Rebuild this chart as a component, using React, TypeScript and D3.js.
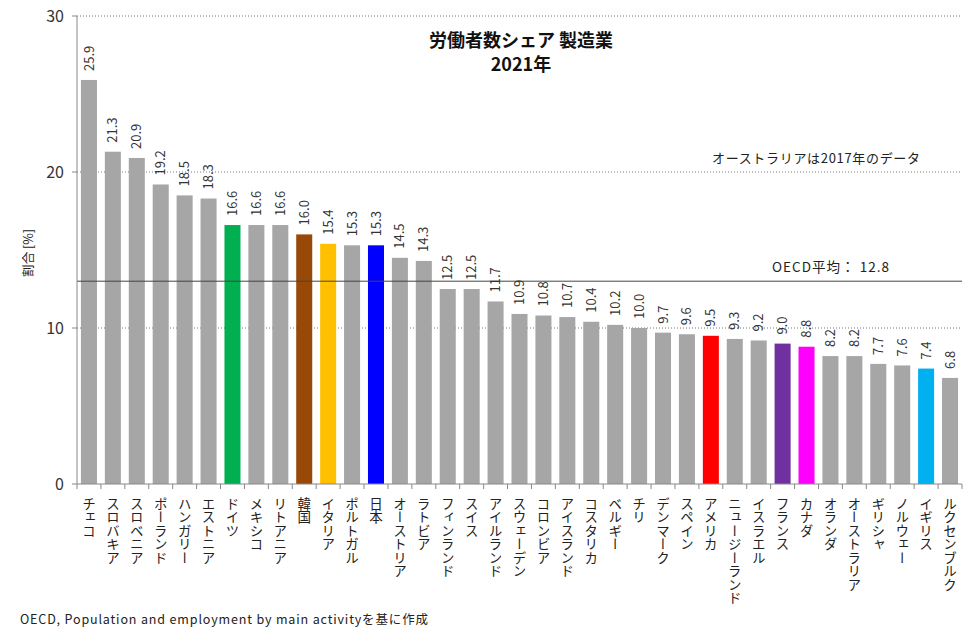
import React from "react";
import * as d3 from "d3";

const categories = [
  "チェコ", "スロバキア", "スロベニア", "ポーランド", "ハンガリー", "エストニア", "ドイツ", "メキシコ", "リトアニア", "韓国",
  "イタリア", "ポルトガル", "日本", "オーストリア", "ラトビア", "フィンランド", "スイス", "アイルランド", "スウェーデン", "コロンビア",
  "アイスランド", "コスタリカ", "ベルギー", "チリ", "デンマーク", "スペイン", "アメリカ", "ニュージーランド", "イスラエル", "フランス",
  "カナダ", "オランダ", "オーストラリア", "ギリシャ", "ノルウェー", "イギリス", "ルクセンブルク",
];
const values = [
  25.9, 21.3, 20.9, 19.2, 18.5, 18.3, 16.6, 16.6, 16.6, 16.0,
  15.4, 15.3, 15.3, 14.5, 14.3, 12.5, 12.5, 11.7, 10.9, 10.8,
  10.7, 10.4, 10.2, 10.0, 9.7, 9.6, 9.5, 9.3, 9.2, 9.0,
  8.8, 8.2, 8.2, 7.7, 7.6, 7.4, 6.8,
];
const highlightNames = ["ドイツ", "韓国", "イタリア", "日本", "アメリカ", "フランス", "カナダ", "イギリス"];
const highlightColors = ["#00b050", "#984807", "#ffc000", "#0000ff", "#ff0000", "#7030a0", "#ff00ff", "#00b0f0"];
const yTicks = [0, 10, 20, 30];
const oecdAverageText = "12.8";
const oecdAverageLineLevel = 13.0; // position of the line as drawn in the reference
const titleLines = ["労働者数シェア 製造業", "2021年"];
const noteText = "オーストラリアは2017年のデータ";
const sourceText = "OECD, Population and employment by main activityを基に作成";

const FONT = "'Noto Sans CJK JP', 'Noto Sans', sans-serif";

export default function App() {
  const W = 977, H = 639;
  const left = 77, right = 962, top = 16, bottom = 484;
  const x = d3.scaleBand<string>().domain(categories).range([left, right]).paddingInner(0.33).paddingOuter(0.165);
  const y = d3.scaleLinear().domain([0, 30]).range([bottom, top]);
  const colorOf = (c: string) => {
    const i = highlightNames.indexOf(c);
    return i >= 0 ? highlightColors[i] : "#a6a6a6";
  };
  const boundaries = d3.range(categories.length + 1).map((i) => left + i * ((right - left) / categories.length));

  return (
    <svg width={W} height={H} style={{ position: "absolute", left: 0, top: 0, background: "#fff" }} fontFamily={FONT}>
      <rect x={0} y={0} width={W} height={H} fill="#fff" />
      {/* gridlines */}
      {yTicks.filter((t) => t > 0).map((t) => (
        <line key={t} x1={left} x2={right} y1={y(t)} y2={y(t)} stroke="#777" strokeWidth={1} strokeDasharray="1,2" />
      ))}
      {/* bars */}
      {categories.map((c, i) => (
        <rect key={c} x={x(c)} y={y(values[i])} width={x.bandwidth()} height={y(0) - y(values[i])} fill={colorOf(c)} />
      ))}
      {/* average line */}
      <line x1={left} x2={right} y1={y(oecdAverageLineLevel)} y2={y(oecdAverageLineLevel)} stroke="#444" strokeWidth={1} />
      {/* axes */}
      <line x1={left} x2={left} y1={top} y2={bottom} stroke="#888" />
      <line x1={left} x2={right} y1={bottom} y2={bottom} stroke="#888" />
      {yTicks.map((t) => (
        <g key={t}>
          <line x1={left - 5} x2={left} y1={y(t)} y2={y(t)} stroke="#888" />
          <text x={left - 13} y={y(t)} dy="0.35em" textAnchor="end" fontSize={16} fill="#333">{t}</text>
        </g>
      ))}
      {boundaries.map((b, i) => (
        <line key={i} x1={b} x2={b} y1={bottom} y2={bottom + 5} stroke="#888" />
      ))}
      {/* value labels */}
      {categories.map((c, i) => {
        const cx = (x(c) as number) + x.bandwidth() / 2;
        return (
          <text key={c} transform={`translate(${cx},${y(values[i]) - 9}) rotate(-90)`} dy="0.35em" fontSize={13} fill="#333">
            {values[i].toFixed(1)}
          </text>
        );
      })}
      {/* category labels */}
      {categories.map((c) => {
        const cx = (x(c) as number) + x.bandwidth() / 2;
        return (
          <text key={c} x={cx} y={bottom + 13} fontSize={13.5} fill="#222" style={{ writingMode: "vertical-rl", textOrientation: "upright" } as any}>
            {c}
          </text>
        );
      })}
      {/* y label */}
      <text transform={`translate(33,253) rotate(-90)`} textAnchor="middle" fontSize={12.5} fill="#222">割合 [%]</text>
      {/* title */}
      <text x={521} y={47} textAnchor="middle" fontSize={18} fontWeight={600} fill="#111">{titleLines[0]}</text>
      <text x={521} y={71} textAnchor="middle" fontSize={18} fontWeight={600} fill="#111">{titleLines[1]}</text>
      {/* annotations */}
      <text x={712} y={163} fontSize={13} fill="#222" textLength={208} lengthAdjust="spacing">{noteText}</text>
      <text x={772} y={272} fontSize={13.5} fill="#222" textLength={117} lengthAdjust="spacing">{`OECD平均： ${oecdAverageText}`}</text>
      {/* source */}
      <text x={20} y={624} fontSize={12.5} fill="#222" textLength={408} lengthAdjust="spacing">{sourceText}</text>
    </svg>
  );
}
